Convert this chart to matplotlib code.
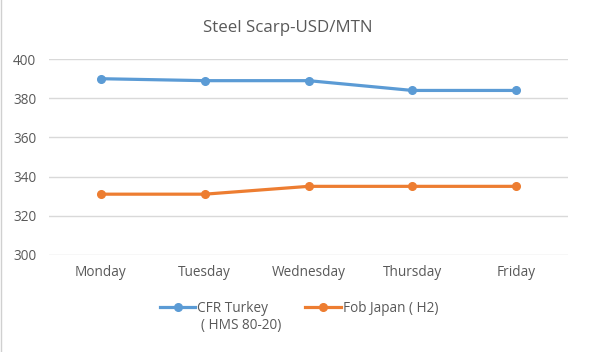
import matplotlib
matplotlib.use("Agg")
import matplotlib.pyplot as plt

# data
days = ["Monday", "Tuesday", "Wednesday", "Thursday", "Friday"]
cfr_turkey = [390, 389, 389, 384, 384]
fob_japan = [331, 331, 335, 335, 335]
yticks = [300, 320, 340, 360, 380, 400]

plt.rcParams["font.family"] = ["Open Sans", "DejaVu Sans"]
txt = "#595959"
W, H = 590, 352

fig = plt.figure(figsize=(W / 100, H / 100), dpi=100)
ax = fig.add_axes([0.083, 0.276, 0.88, 0.556])

x = list(range(len(days)))
ax.plot(x, cfr_turkey, color="#5b9bd5", lw=2.3, marker="o", ms=5.5,
        label="CFR Turkey")
ax.plot(x, fob_japan, color="#ed7d31", lw=2.3, marker="o", ms=5.5,
        label="Fob Japan ( H2)")

ax.set_xlim(-0.5, len(days) - 0.5)
ax.set_ylim(300, 400)
ax.set_yticks(yticks)
ax.set_xticks(x)
ax.set_xticklabels(days)
ax.grid(axis="y", color="#d9d9d9", lw=1)
ax.set_axisbelow(True)
for s in ax.spines.values():
    s.set_visible(False)
ax.tick_params(length=0, colors=txt, labelsize=9.8)
ax.tick_params(axis="y", pad=9)
ax.tick_params(axis="x", pad=7)

fig.text(288 / W, 1 - 28 / H, "Steel Scarp-USD/MTN", ha="center", va="center",
         fontsize=12.2, color=txt)

leg = fig.legend(loc="center left", bbox_to_anchor=(160 / W, 1 - 308 / H),
                 ncol=2, frameon=False, fontsize=9.8, handlelength=2.6,
                 columnspacing=2.7, handletextpad=0.15, borderpad=0,
                 borderaxespad=0)
for t in leg.get_texts():
    t.set_color(txt)

# second line of the first legend label, under "CFR Turkey"
fig.canvas.draw()
bb = leg.get_texts()[0].get_window_extent()
fig.text((bb.x0 + 4) / W, 1 - 326 / H, "( HMS 80-20)", ha="left", va="center",
         fontsize=9.8, color=txt)

# faint frame on the left like the screenshot
fig.add_artist(plt.Line2D([0.002, 0.002], [0, 1], color="#d0d0d0", lw=1))

fig.savefig("out.png", dpi=100)
